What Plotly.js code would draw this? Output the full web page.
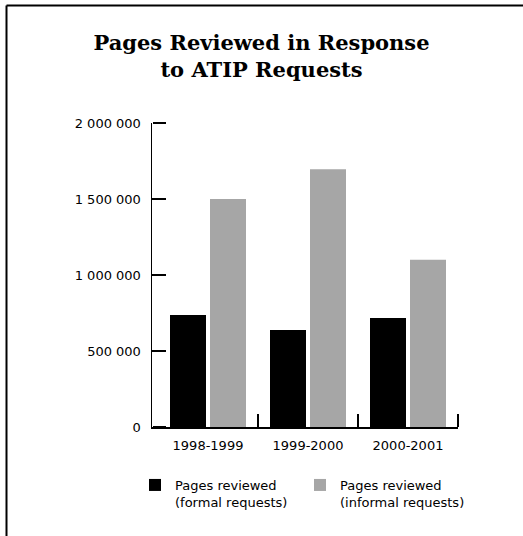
<!DOCTYPE html>
<html>
<head>
<meta charset="utf-8">
<script src="https://cdn.plot.ly/plotly-3.0.1.min.js"></script>
<style>html,body{margin:0;padding:0;background:#fff;}#chart{width:523px;height:536px;}</style>
</head>
<body>
<div id="chart"></div>
<script>
const years = ["1998-1999", "1999-2000", "2000-2001"];
const formalPages = [737000, 638000, 717000];
const informalPages = [1500000, 1695000, 1100000];
const seriesNames = ["Pages reviewed<br>(formal requests)", "Pages reviewed<br>(informal requests)"];
const yTicks = [0, 500000, 1000000, 1500000, 2000000];

const W = 523, H = 536;
const L = 152, R = 65, T = 123, B = 109;
const pw = W - L - R, ph = H - T - B;
const px = v => (v - L) / pw;
const py = v => (H - B - v) / ph;
const pos = years.map((_, i) => i);
const bounds = years.map((_, i) => i + 0.5);
const sans = "DejaVu Sans, Verdana, sans-serif";
const yRange = [0, 2000000];

const traces = [
  {type: "bar", x: pos, y: formalPages, name: seriesNames[0], marker: {color: "#000000", line: {width: 0}}},
  {type: "bar", x: pos, y: informalPages, name: seriesNames[1], marker: {color: "#a6a6a6", line: {width: 0}}},
  {type: "scatter", mode: "none", x: pos, y: formalPages, yaxis: "y2", showlegend: false, hoverinfo: "skip"}
];

const layout = {
  width: W, height: H,
  margin: {l: L, r: R, t: T, b: B, pad: 0},
  paper_bgcolor: "#ffffff", plot_bgcolor: "#ffffff",
  separators: ". ",
  font: {family: sans, size: 13, color: "#000"},
  title: {
    text: "<b>Pages Reviewed in Response<br>to ATIP Requests</b>",
    font: {family: "DejaVu Serif, serif", size: 21, color: "#000"},
    x: 0.5, xanchor: "center", xref: "container",
    yref: "container", y: 1 - 50/H, yanchor: "top"
  },
  barmode: "group",
  bargap: 0.2,
  bargroupgap: 0.1,
  showlegend: true,
  legend: {
    orientation: "h", x: px(135), xanchor: "left", y: py(470), yanchor: "top",
    font: {family: sans, size: 13, color: "#000"}, itemwidth: 30, traceorder: "normal",
    entrywidth: 120, valign: "top",
    bgcolor: "rgba(0,0,0,0)"
  },
  xaxis: {
    type: "linear", range: [-0.56, 2.5],
    tickvals: pos, ticktext: years, ticks: "",
    minor: {tickvals: bounds, ticks: "inside", ticklen: 13, tickwidth: 1.5, tickcolor: "#000", showgrid: false},
    showline: true, linecolor: "#000", linewidth: 1.5,
    showgrid: false, zeroline: false, fixedrange: true,
    tickfont: {family: sans, size: 13, color: "#000"}, ticklabelstandoff: 6
  },
  yaxis: {
    range: yRange, tickvals: yTicks, tickformat: ",d",
    showline: true, linecolor: "#000", linewidth: 1.5,
    ticks: "inside", ticklen: 13, tickwidth: 1.5, tickcolor: "#000",
    showgrid: false, zeroline: false, fixedrange: true,
    tickfont: {family: sans, size: 13, color: "#000"}, ticklabelstandoff: 7
  },
  yaxis2: {
    overlaying: "y", side: "right", anchor: "free", position: 0,
    range: yRange, tickvals: yTicks, showticklabels: false,
    ticks: "outside", ticklen: 13, tickwidth: 1.5, tickcolor: "#000",
    showline: false, showgrid: false, zeroline: false, fixedrange: true
  },
  shapes: [
    {type: "line", xref: "paper", yref: "paper", x0: px(6.5), x1: px(524), y0: py(5.5), y1: py(5.5), line: {color: "#000", width: 2}},
    {type: "line", xref: "paper", yref: "paper", x0: px(6.5), x1: px(6.5), y0: py(5.5), y1: py(537), line: {color: "#000", width: 2}}
  ]
};

Plotly.newPlot("chart", traces, layout, {displayModeBar: false, staticPlot: true});
</script>
</body>
</html>
